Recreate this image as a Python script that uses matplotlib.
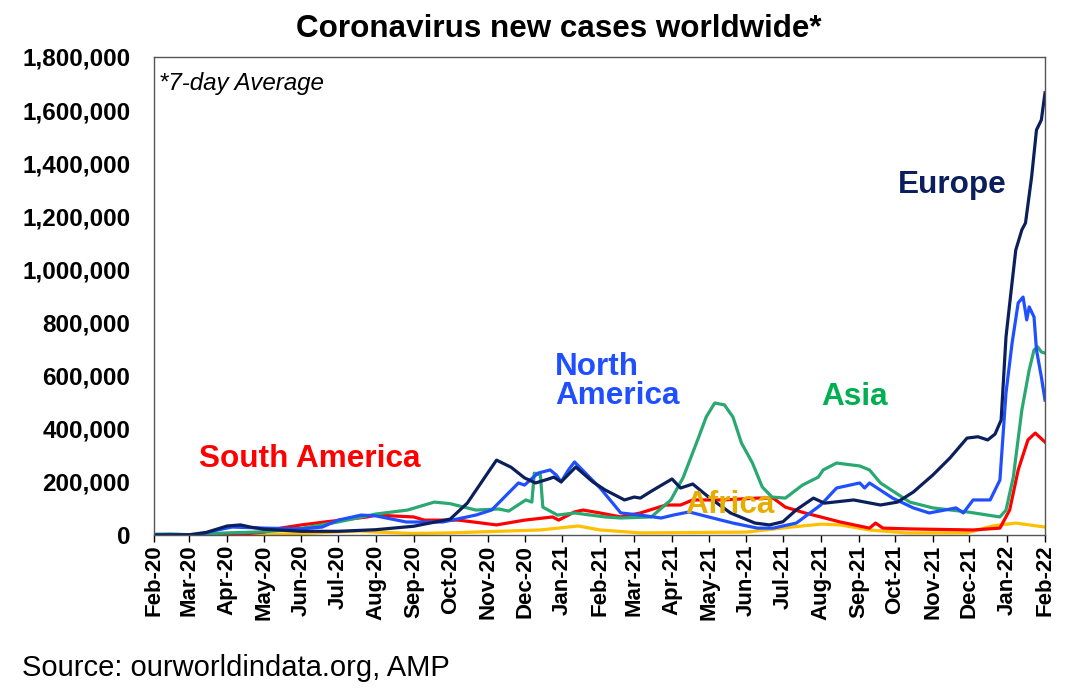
import pandas as pd
import matplotlib
matplotlib.use("Agg")
import matplotlib.pyplot as plt
import matplotlib.dates as mdates
from matplotlib.ticker import FuncFormatter

plt.rcParams['font.family'] = ['Liberation Sans', 'DejaVu Sans']

# 7-day average of new cases, thousands
europe_dates = ["2020-02-01", "2020-03-01", "2020-03-15", "2020-04-01", "2020-04-12", "2020-04-20",
                "2020-05-01", "2020-06-01", "2020-07-01", "2020-08-01", "2020-09-01", "2020-10-01",
                "2020-10-15", "2020-11-01", "2020-11-08", "2020-11-20", "2020-12-01", "2020-12-10",
                "2020-12-20", "2020-12-25", "2020-12-31", "2021-01-12", "2021-01-26", "2021-02-05",
                "2021-02-21", "2021-03-01", "2021-03-06", "2021-03-15", "2021-04-01", "2021-04-08",
                "2021-04-18", "2021-05-01", "2021-05-19", "2021-06-08", "2021-06-20", "2021-07-01",
                "2021-07-12", "2021-07-26", "2021-08-04", "2021-08-28", "2021-09-19", "2021-10-03",
                "2021-10-16", "2021-11-01", "2021-11-15", "2021-11-29", "2021-12-08", "2021-12-16",
                "2021-12-22", "2021-12-27", "2021-12-31", "2022-01-04", "2022-01-08", "2022-01-13",
                "2022-01-16", "2022-01-21", "2022-01-25", "2022-01-29", "2022-02-01"]
europe_k = [0, 1, 10, 34, 38, 30,
            22, 14, 14, 20, 33, 60,
            120, 235, 282, 255, 215, 196,
            210, 218, 200, 256, 200, 170,
            132, 143, 139, 165, 211, 177,
            192, 143, 83, 45, 38, 50,
            95, 139, 120, 132, 113, 124,
            162, 226, 290, 365, 370, 358,
            380, 433, 746, 911, 1073, 1149,
            1175, 1348, 1525, 1563, 1665]

namerica_dates = ["2020-02-01", "2020-03-10", "2020-03-20", "2020-04-05", "2020-05-01", "2020-06-01",
                  "2020-06-18", "2020-07-01", "2020-07-20", "2020-08-01", "2020-08-26", "2020-09-10",
                  "2020-09-25", "2020-10-22", "2020-11-04", "2020-11-26", "2020-12-01", "2020-12-12",
                  "2020-12-22", "2020-12-27", "2020-12-31", "2021-01-06", "2021-01-11", "2021-02-01",
                  "2021-02-18", "2021-03-06", "2021-03-23", "2021-04-02", "2021-04-15", "2021-05-01",
                  "2021-05-21", "2021-06-10", "2021-06-23", "2021-07-12", "2021-08-01", "2021-08-14",
                  "2021-09-02", "2021-09-06", "2021-09-10", "2021-09-29", "2021-10-16", "2021-10-29",
                  "2021-11-20", "2021-11-26", "2021-12-04", "2021-12-18", "2021-12-26", "2021-12-31",
                  "2022-01-05", "2022-01-10", "2022-01-14", "2022-01-17", "2022-01-19", "2022-01-23",
                  "2022-01-25", "2022-01-29", "2022-02-01"]
namerica_k = [0, 2, 15, 30, 26, 23,
              30, 56, 75, 72, 49, 49,
              49, 75, 94, 196, 188, 233,
              245, 226, 200, 245, 275, 177,
              83, 75, 64, 75, 87, 68,
              45, 26, 26, 45, 113, 177,
              196, 177, 196, 139, 102, 83,
              102, 83, 132, 132, 207, 535,
              723, 874, 896, 810, 859, 821,
              697, 595, 508]

asia_dates = ["2020-02-01", "2020-02-15", "2020-03-01", "2020-04-01", "2020-05-01", "2020-06-01",
              "2020-07-01", "2020-08-01", "2020-08-27", "2020-09-18", "2020-10-01", "2020-10-22",
              "2020-11-10", "2020-11-18", "2020-12-02", "2020-12-07", "2020-12-09", "2020-12-14",
              "2020-12-16", "2020-12-28", "2021-01-11", "2021-02-05", "2021-02-18", "2021-03-15",
              "2021-03-31", "2021-04-10", "2021-04-22", "2021-04-29", "2021-05-06", "2021-05-14",
              "2021-05-21", "2021-05-28", "2021-06-06", "2021-06-14", "2021-06-22", "2021-07-03",
              "2021-07-17", "2021-07-30", "2021-08-03", "2021-08-14", "2021-08-26", "2021-09-02",
              "2021-09-10", "2021-09-19", "2021-10-13", "2021-11-01", "2021-11-29", "2021-12-26",
              "2021-12-31", "2022-01-06", "2022-01-13", "2022-01-19", "2022-01-23", "2022-01-26",
              "2022-01-29", "2022-02-01"]
asia_k = [3, 4, 1, 8, 12, 25,
          49, 79, 94, 124, 118, 94,
          98, 90, 132, 124, 233, 226,
          105, 75, 83, 68, 64, 68,
          132, 215, 358, 444, 497, 490,
          444, 346, 271, 181, 143, 139,
          188, 218, 245, 271, 264, 260,
          245, 196, 124, 102, 87, 68,
          94, 218, 471, 621, 697, 708,
          689, 685]

samerica_dates = ["2020-02-01", "2020-04-01", "2020-04-15", "2020-05-01", "2020-05-15", "2020-06-01",
                  "2020-06-20", "2020-07-03", "2020-07-25", "2020-08-01", "2020-09-01", "2020-09-10",
                  "2020-10-08", "2020-11-08", "2020-12-01", "2020-12-24", "2020-12-29", "2021-01-11",
                  "2021-01-18", "2021-02-01", "2021-02-18", "2021-03-06", "2021-03-27", "2021-04-08",
                  "2021-04-18", "2021-05-13", "2021-06-10", "2021-06-23", "2021-07-03", "2021-07-19",
                  "2021-08-01", "2021-08-17", "2021-09-10", "2021-09-15", "2021-09-21", "2021-10-13",
                  "2021-12-04", "2021-12-26", "2022-01-03", "2022-01-10", "2022-01-18", "2022-01-24",
                  "2022-02-01"]
samerica_k = [0, 0, 4, 11, 26, 38,
              49, 56, 68, 75, 68, 56,
              56, 38, 56, 68, 56, 87,
              94, 83, 68, 83, 113, 113,
              132, 132, 139, 139, 105, 83,
              68, 49, 26, 45, 26, 23,
              19, 26, 94, 245, 358, 384,
              350]

africa_dates = ["2020-02-01", "2020-04-01", "2020-05-01", "2020-06-01", "2020-07-01", "2020-07-20",
                "2020-08-01", "2020-09-01", "2020-10-01", "2020-12-14", "2021-01-14", "2021-02-01",
                "2021-03-06", "2021-06-01", "2021-07-08", "2021-08-01", "2021-08-17", "2021-09-10",
                "2021-10-10", "2021-11-29", "2021-12-20", "2022-01-08", "2022-02-01"]
africa_k = [0, 0, 3, 5, 12, 15,
            11, 6, 8, 19, 34, 19,
            8, 11, 30, 41, 38, 19,
            8, 8, 34, 45, 30]

series = [
    ("Africa", africa_dates, africa_k, "#ffc000"),
    ("South America", samerica_dates, samerica_k, "#ff0000"),
    ("Asia", asia_dates, asia_k, "#2aa872"),
    ("North America", namerica_dates, namerica_k, "#1f4fff"),
    ("Europe", europe_dates, europe_k, "#0b1f5c"),
]

fig = plt.figure(figsize=(10.8, 6.99), dpi=100)
ax = fig.add_axes([0.1426, 0.2346, 0.8250, 0.6839])

for name, dates, vals, color in series:
    ax.plot(pd.to_datetime(dates), [v * 1000 for v in vals], color=color, lw=2.3,
            solid_joinstyle="round")

ax.set_xlim(pd.Timestamp("2020-02-01"), pd.Timestamp("2022-02-01"))
ax.set_ylim(0, 1800000)
ax.set_yticks(range(0, 1800001, 200000))
ax.yaxis.set_major_formatter(FuncFormatter(lambda v, p: f"{int(v):,}"))
ax.xaxis.set_major_locator(mdates.MonthLocator())
ax.xaxis.set_major_formatter(mdates.DateFormatter("%b-%y"))

ax.tick_params(axis="x", direction="out", length=5, width=1, rotation=90, labelsize=16, pad=2)
ax.tick_params(axis="y", length=0, labelsize=17.5, pad=17)
for lab in ax.get_xticklabels() + ax.get_yticklabels():
    lab.set_fontweight("bold")
for sp in ax.spines.values():
    sp.set_color("#555555")
    sp.set_linewidth(1)

fig.text(0.5176, 0.959, "Coronavirus new cases worldwide*", ha="center", va="center",
         fontsize=22.6, fontweight="bold")
ax.text(0.006, 0.945, "*7-day Average", transform=ax.transAxes, fontsize=17.4, style="italic",
        va="center", ha="left")

lab_kw = dict(fontsize=22.7, fontweight="bold", va="center", ha="left")
ax.text(pd.Timestamp("2021-10-03"), 1318000, "Europe", color="#0b1f5c", **lab_kw)
ax.text(pd.Timestamp("2020-12-26"), 578000, "North\nAmerica", color="#1f4fff",
        linespacing=0.95, **lab_kw)
ax.text(pd.Timestamp("2021-08-01"), 520000, "Asia", color="#00b050", **lab_kw)
ax.text(pd.Timestamp("2020-03-09"), 286000, "South America", color="#ff0000", **lab_kw)
ax.text(pd.Timestamp("2021-04-12"), 113000, "Africa", color="#e6ac00", **lab_kw)

fig.text(0.02, 0.044, "Source: ourworldindata.org, AMP", fontsize=21, va="center", ha="left")

fig.savefig("out.png", dpi=100)
